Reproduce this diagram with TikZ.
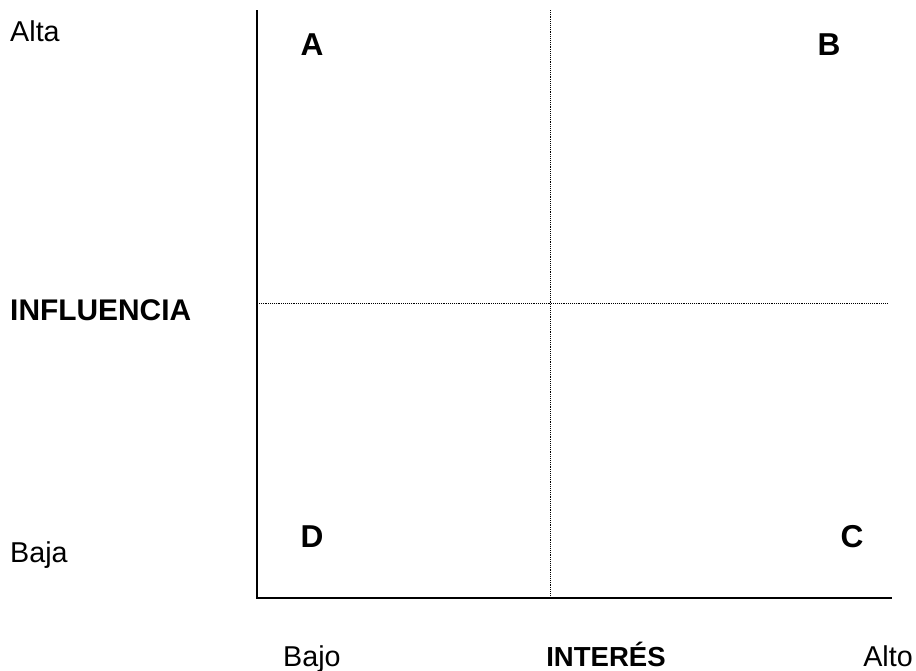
\documentclass[tikz,border=0pt]{standalone}
\usepackage{fontspec}
\setmainfont{Liberation Sans}
\begin{document}
\begin{tikzpicture}[x=0.03cm,y=-0.03cm,
        lbl/.style={font=\fontsize{24.5}{28}\selectfont,inner sep=0pt},
        blbl/.style={lbl,font=\fontsize{25.5}{28}\selectfont\bfseries},
        qlbl/.style={lbl,font=\fontsize{27}{28}\selectfont\bfseries},
        axisline/.style={line width=1.3pt},
        midline/.style={line width=0.8pt,dash pattern=on 0.8pt off 0.8pt}]

            \useasboundingbox (0,0) rectangle (916,671);

            \coordinate (o) at (257,598);
            \coordinate (ytop) at (257,10);
            \coordinate (xend) at (892,598);
            \coordinate (mtop) at (550,10);
            \coordinate (mbot) at (550,598);
            \coordinate (hleft) at (257,303);
            \coordinate (hright) at (887,303);

            \draw[midline] (mtop) -- (mbot);
            \draw[midline] (hleft) -- (hright);
            \draw[axisline] (ytop) -- (o) -- (xend);

            \node[lbl,anchor=base west] (alta) at (10,42) {Alta};
            \node[blbl,anchor=base west] (influencia) at (10,320) {INFLUENCIA};
            \node[lbl,anchor=base west] (baja) at (10,562) {Baja};

            \node[qlbl,anchor=base] (qa) at (312,55) {A};
            \node[qlbl,anchor=base] (qb) at (829,55) {B};
            \node[qlbl,anchor=base] (qd) at (312,547) {D};
            \node[qlbl,anchor=base] (qc) at (852,547) {C};

            \node[lbl,anchor=base west] (bajo) at (283,666) {Bajo};
            \node[blbl,font=\fontsize{23.5}{28}\selectfont\bfseries,anchor=base] (interes) at (606,666) {INTERÉS};
            \node[lbl,anchor=base east] (alto) at (913,666) {Alto};
        \end{tikzpicture}
\end{document}
